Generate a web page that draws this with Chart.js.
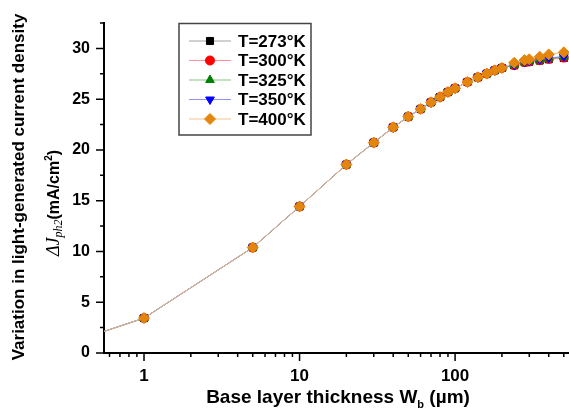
<!DOCTYPE html>
<html lang="en">
  <head>
    <meta charset="UTF-8" />
    <title>Jph2 vs base thickness</title>
    <style>
      body {
        margin: 0;
        background: #fff;
        overflow: hidden;
      }
      #chart {
        display: block;
      }
    </style>
  </head>
  <body>
    <canvas id="chart" width="569" height="408"></canvas>
  </body>
  <script src="https://cdn.jsdelivr.net/npm/chart.js"></script>
  <script>
    // base layer thickness (um)
    const thickness = [0.5, 1, 5, 10, 20, 30, 40, 50, 60, 70, 80, 90, 100, 120, 140, 160, 180, 200, 240, 280, 300, 350, 400, 500];

    // delta Jph2 (mA/cm2) for each temperature
    const j273 = [1.9, 3.44, 10.39, 14.43, 18.56, 20.72, 22.23, 23.28, 24.03, 24.69, 25.21, 25.7, 26.07, 26.69, 27.15, 27.51, 27.84, 28.07, 28.33, 28.62, 28.68, 28.8, 28.92, 29.05];
    const j300 = [1.9, 3.44, 10.39, 14.43, 18.56, 20.72, 22.23, 23.28, 24.03, 24.69, 25.21, 25.7, 26.07, 26.69, 27.15, 27.51, 27.84, 28.07, 28.35, 28.64, 28.71, 28.84, 28.97, 29.1];
    const j325 = [1.9, 3.44, 10.39, 14.43, 18.56, 20.72, 22.23, 23.28, 24.03, 24.69, 25.21, 25.7, 26.07, 26.69, 27.15, 27.51, 27.84, 28.07, 28.37, 28.67, 28.74, 28.88, 29.02, 29.16];
    const j350 = [1.9, 3.44, 10.39, 14.43, 18.56, 20.72, 22.23, 23.28, 24.03, 24.69, 25.21, 25.7, 26.07, 26.69, 27.15, 27.51, 27.84, 28.07, 28.38, 28.69, 28.76, 28.91, 29.06, 29.2];
    const j400 = [1.9, 3.44, 10.39, 14.43, 18.56, 20.72, 22.23, 23.28, 24.03, 24.69, 25.21, 25.7, 26.07, 26.69, 27.15, 27.51, 27.84, 28.07, 28.59, 28.85, 28.92, 29.18, 29.41, 29.61];

    const seriesLabels = ["T=273°K", "T=300°K", "T=325°K", "T=350°K", "T=400°K"];
    const xMajorLabels = [1, 10, 100];

    const FONT = "'Liberation Sans', Arial, sans-serif";
    const SERIF = "'Liberation Serif', 'Times New Roman', serif";

    function makeSet(label, values, lineColor, markColor, style, radius, rotation, order) {
      return {
        label: label,
        data: thickness.map((x, i) => ({ x: x, y: values[i] })),
        borderColor: lineColor,
        borderWidth: 1,
        backgroundColor: markColor,
        pointBackgroundColor: markColor,
        pointBorderColor: markColor,
        pointBorderWidth: 1,
        pointStyle: style,
        pointRadius: thickness.map((x) => (x < 0.9 ? 0 : radius)),
        pointRotation: rotation,
        tension: 0,
        clip: { left: 0, top: 10, right: 20, bottom: 0 },
        order: order, // later temperatures drawn on top
      };
    }

    const datasets = [
      makeSet(seriesLabels[0], j273, "rgba(140,140,140,0.8)", "#000000", "rect", 5, 0, 4),
      makeSet(seriesLabels[1], j300, "rgba(255,120,120,0.8)", "#ff0000", "circle", 4.5, 0, 3),
      makeSet(seriesLabels[2], j325, "rgba(100,180,100,0.8)", "#008000", "triangle", 5, 0, 2),
      makeSet(seriesLabels[3], j350, "rgba(120,120,255,0.8)", "#0000ff", "triangle", 5, 180, 1),
      makeSet(seriesLabels[4], j400, "rgba(240,190,130,0.9)", "#e5860c", "rectRot", 5.5, 0, 0),
    ];

    // outward tick marks, major and minor
    const tickMarks = {
      id: "tickMarks",
      afterDraw(chart) {
        const ctx = chart.ctx;
        const xs = chart.scales.x;
        const ys = chart.scales.y;
        ctx.save();
        ctx.strokeStyle = "#000";
        ctx.lineWidth = 1.5;
        ctx.beginPath();
        for (let d = 0.1; d <= 1000; d *= 10) {
          for (let m = 1; m <= 9; m++) {
            const v = m * d;
            if (v < xs.min || v > xs.max) continue;
            const px = xs.getPixelForValue(v);
            const len = m === 1 ? 8 : 4;
            ctx.moveTo(px, xs.top);
            ctx.lineTo(px, xs.top + len);
          }
        }
        for (let v = 0; v <= ys.max; v += 2.5) {
          const py = ys.getPixelForValue(v);
          const len = v % 5 === 0 ? 8 : 4;
          ctx.moveTo(ys.right, py);
          ctx.lineTo(ys.right - len, py);
        }
        ctx.stroke();
        ctx.restore();
      },
    };

    // axis titles with sub/superscripts
    const axisTitles = {
      id: "axisTitles",
      afterDraw(chart) {
        const ctx = chart.ctx;
        ctx.save();
        ctx.fillStyle = "#000";
        ctx.textBaseline = "alphabetic";
        ctx.textAlign = "left";

        // x title
        const bold = "bold 19px " + FONT;
        const sub = "bold 11px " + FONT;
        const partA = "Base layer thickness W";
        const partB = "b";
        const partC = " (µm)";
        ctx.font = bold;
        const wA = ctx.measureText(partA).width;
        const wC = ctx.measureText(partC).width;
        ctx.font = sub;
        const wB = ctx.measureText(partB).width;
        let x = 338 - (wA + wB + wC) / 2;
        const base = 403;
        ctx.font = bold;
        ctx.fillText(partA, x, base);
        x += wA;
        ctx.font = sub;
        ctx.fillText(partB, x, base + 5);
        x += wB;
        ctx.font = bold;
        ctx.fillText(partC, x, base);

        // y title, line 1
        ctx.save();
        ctx.translate(19, 187);
        ctx.rotate(-Math.PI / 2);
        ctx.font = "bold 17px " + FONT;
        ctx.textAlign = "center";
        ctx.textBaseline = "middle";
        ctx.fillText("Variation in light-generated current density", 0, 0);
        ctx.restore();

        // y title, line 2
        ctx.save();
        ctx.translate(53, 203);
        ctx.rotate(-Math.PI / 2);
        const pieces = [
          { t: "ΔJ", f: "italic 18px " + SERIF, dy: 0 },
          { t: "ph2", f: "italic 12px " + SERIF, dy: 3 },
          { t: "(mA/cm", f: "bold 16px " + FONT, dy: 0 },
          { t: "2", f: "bold 10px " + FONT, dy: -7 },
          { t: ")", f: "bold 16px " + FONT, dy: 0 },
        ];
        let total = 0;
        pieces.forEach((p) => {
          ctx.font = p.f;
          p.w = ctx.measureText(p.t).width;
          total += p.w;
        });
        let px = -total / 2;
        ctx.textAlign = "left";
        ctx.textBaseline = "alphabetic";
        pieces.forEach((p) => {
          ctx.font = p.f;
          ctx.fillText(p.t, px, 6 + p.dy);
          px += p.w;
        });
        ctx.restore();

        ctx.restore();
      },
    };

    // legend box with line + marker samples
    const lineLegend = {
      id: "lineLegend",
      afterDraw(chart) {
        const ctx = chart.ctx;
        const left = 179;
        const top = 23.5;
        const width = 132;
        const height = 111.5;
        const rowY = [41, 60.5, 80, 99.5, 119];
        ctx.save();
        ctx.fillStyle = "#fff";
        ctx.fillRect(left, top, width, height);
        ctx.strokeStyle = "#444";
        ctx.lineWidth = 1.5;
        ctx.strokeRect(left, top, width, height);
        chart.data.datasets.forEach((ds, i) => {
          const y = rowY[i];
          ctx.strokeStyle = ds.borderColor;
          ctx.lineWidth = 1;
          ctx.beginPath();
          ctx.moveTo(189, y);
          ctx.lineTo(231, y);
          ctx.stroke();
          ctx.fillStyle = ds.pointBackgroundColor;
          ctx.strokeStyle = ds.pointBorderColor;
          Chart.helpers.drawPoint(
            ctx,
            {
              pointStyle: ds.pointStyle,
              radius: Math.max(...ds.pointRadius),
              rotation: ds.pointRotation,
              borderWidth: 1,
            },
            210,
            y
          );
          ctx.fillStyle = "#000";
          ctx.font = "bold 17px " + FONT;
          ctx.textAlign = "left";
          ctx.textBaseline = "middle";
          ctx.fillText(ds.label, 238, y + 1);
        });
        ctx.restore();
      },
    };

    const ctx = document.getElementById("chart");
    const config = {
      type: "line",
      data: { datasets: datasets },
      options: {
        responsive: false,
        animation: false,
        devicePixelRatio: 1,
        layout: { autoPadding: false, padding: { top: 23, right: 0, left: 0, bottom: 0 } },
        plugins: {
          legend: { display: false },
          tooltip: { enabled: false },
        },
        scales: {
          x: {
            type: "logarithmic",
            min: 0.553,
            max: 540,
            grid: { display: false, drawTicks: false },
            border: { display: true, color: "#000", width: 2 },
            ticks: {
              autoSkip: false,
              maxRotation: 0,
              padding: 13,
              color: "#000",
              font: { family: FONT, size: 17, weight: "bold" },
              callback: (v) => {
                const hit = xMajorLabels.find((m) => Math.abs(m - v) < 1e-6 * m);
                return hit ? String(hit) : "";
              },
            },
            afterFit: (scale) => {
              scale.height = 55;
              scale.paddingLeft = 0;
              scale.paddingRight = 0;
            },
          },
          y: {
            min: 0,
            max: 32.5,
            grid: { display: false, drawTicks: false },
            border: { display: true, color: "#000", width: 2 },
            ticks: {
              stepSize: 5,
              includeBounds: false,
              padding: 14,
              color: "#000",
              font: { family: FONT, size: 16, weight: "bold" },
              callback: (v) => (v % 5 === 0 ? String(v) : ""),
            },
            afterFit: (scale) => {
              scale.width = 104;
              scale.paddingTop = 0;
              scale.paddingBottom = 0;
            },
          },
        },
      },
      plugins: [tickMarks, axisTitles, lineLegend],
    };

    const myChart = new Chart(ctx, config);
  </script>
</html>
